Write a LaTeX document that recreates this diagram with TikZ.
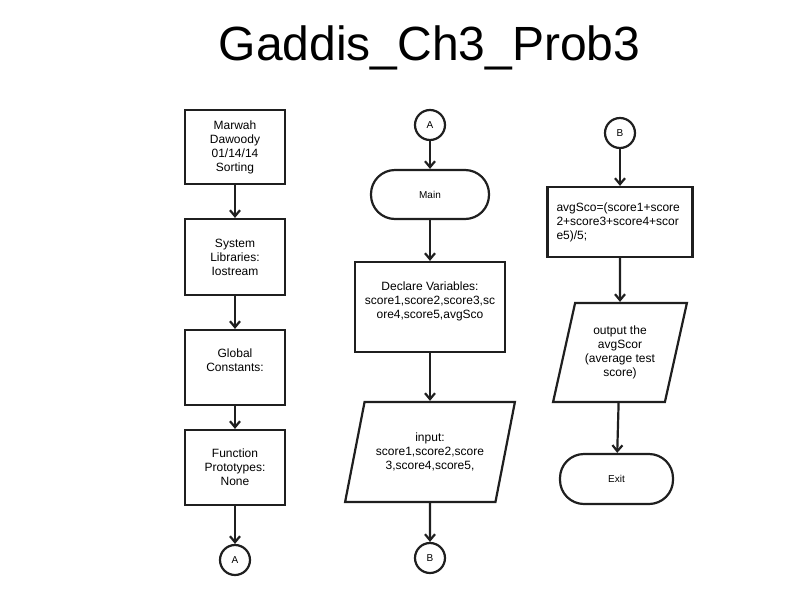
\documentclass[tikz,border=0pt]{standalone}
\usepackage{fontspec}
\setmainfont{Liberation Sans}
\usetikzlibrary{arrows.meta,shapes.geometric}

\tikzset{
  line/.style    = {draw=black!88, line width=2.2pt},
  proc/.style    = {rectangle, line, align=center,
                    font=\fontsize{12}{14}\selectfont},
  term/.style    = {rectangle, line, rounded corners=24pt,
                    font=\fontsize{10}{12}\selectfont},
  inout/.style   = {trapezium, trapezium stretches=true, line, align=center,
                    font=\fontsize{12}{14}\selectfont, inner sep=0pt},
  conn/.style    = {circle, line, minimum size=30pt, inner sep=0pt,
                    font=\fontsize{10}{12}\selectfont},
  every edge/.style = {line, -{Straight Barb[length=6pt,width=10pt]}}
}

\begin{document}
\begin{tikzpicture}[x=1pt, y=-1pt]
   \useasboundingbox (0,0) rectangle (809,595);

   \node (title) [anchor=base, font=\fontsize{48}{56}\selectfont]
        at (429.5,60) {Gaddis\_Ch3\_Prob3};

   % first column
   \node (info)   [proc, minimum width=100pt, minimum height=74pt] at (235,147)
        {Marwah\\Dawoody\\01/14/14\\Sorting};
   \node (libs)   [proc, minimum width=100pt, minimum height=76pt] at (235,257)
        {System\\Libraries:\\Iostream};
   \node (consts) [proc, minimum width=100pt, minimum height=75pt] at (235,367.5)
        {Global\\Constants:\\\mbox{}};
   \node (protos) [proc, minimum width=100pt, minimum height=75pt] at (235,467.5)
        {Function\\Prototypes:\\None};
   \node (outA)   [conn] at (235,560) {A};

   % second column
   \node (inA)    [conn] at (430,125) {A};
   \node (main)   [term, minimum width=118pt, minimum height=49pt] at (430,194.5)
        {Main};
   \node (decl)   [proc, minimum width=150pt, minimum height=90pt] at (430,307)
        {Declare Variables:\\score1,score2,score3,sc\\ore4,score5,avgSco\\\mbox{}};
   \node (input)  [inout, trapezium left angle=67.2, trapezium right angle=112.8,
                   minimum width=170pt, minimum height=100pt] at (430,452)
        {input:\\score1,score2,score\\3,score4,score5,};
   \node (outB)   [conn] at (430,558) {B};

   % third column
   \node (inB)    [conn] at (620,133) {B};
   \node (calc)   [proc, align=left, minimum width=145pt, minimum height=70pt,
                   text width=127pt] at (620,222)
        {avgSco=(score1+score\\2+score3+score4+scor\\e5)/5;};
   \node (output) [inout, trapezium left angle=72.1, trapezium right angle=107.9,
                   minimum width=134pt, minimum height=99pt] at (620,352.5)
        {output the\\avgScor\\(average test\\score)};
   \node (exit)   [term, minimum width=113pt, minimum height=50pt] at (616.5,479)
        {Exit};

   \path
     (info)   edge (libs)
     (libs)   edge (consts)
     (consts) edge (protos)
     (protos) edge (outA)
     (inA)    edge (main)
     (main)   edge (decl)
     (decl)   edge (input)
     (input)  edge (outB)
     (inB)    edge (calc)
     (calc)   edge (output)
     (output) edge (exit);
\end{tikzpicture}
\end{document}
